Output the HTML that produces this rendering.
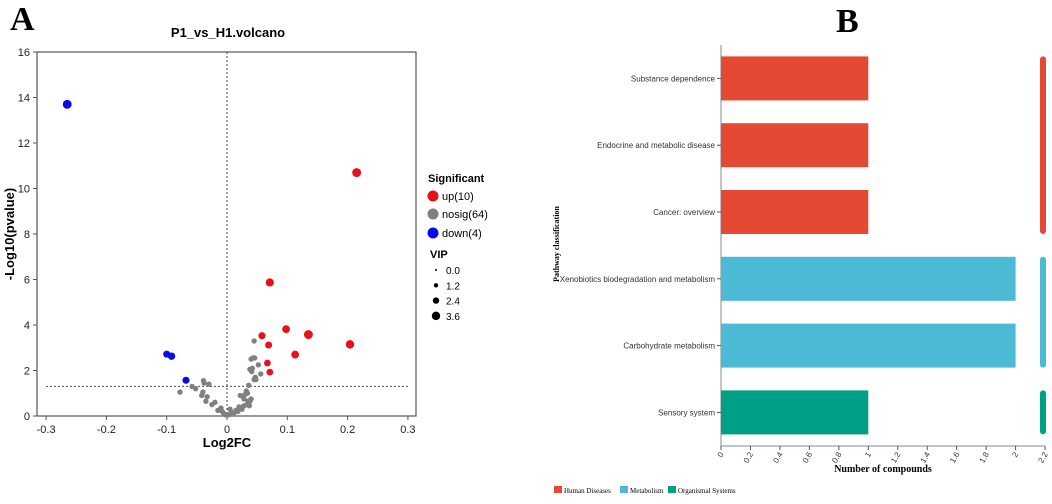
<!DOCTYPE html>
<html><head><meta charset="utf-8"><style>
body{margin:0;background:#fff;width:1052px;height:499px;overflow:hidden}
</style></head><body>
<svg id="s" width="1052" height="499" xmlns="http://www.w3.org/2000/svg" font-family="Liberation Sans, sans-serif">
<text x="10" y="30" font-family="Liberation Serif, serif" font-weight="bold" font-size="34">A</text>
<text x="836" y="32" font-family="Liberation Serif, serif" font-weight="bold" font-size="34">B</text>
<text x="228" y="37" text-anchor="middle" font-weight="bold" font-size="13">P1_vs_H1.volcano</text>
<g id="va"></g>
<g id="ba"></g>
</svg>
<script>
const NS="http://www.w3.org/2000/svg";
function mk(p,t,a,txt){const e=document.createElementNS(NS,t);for(const k in a)e.setAttribute(k,a[k]);if(txt!==undefined)e.textContent=txt;p.appendChild(e);return e;}
// ---- volcano data
const upX=[0.215,0.071,0.098,0.135,0.058,0.069,0.204,0.113,0.067,0.071];
const upY=[10.7,5.87,3.82,3.58,3.53,3.12,3.15,2.7,2.33,1.93];
const upVip=[3.6,3.2,3.0,3.6,2.6,2.6,3.4,3.0,2.4,2.4];
const downX=[-0.265,-0.1,-0.092,-0.068];
const downY=[13.7,2.72,2.63,1.57];
const downVip=[3.6,2.6,2.8,2.6];
const nsX=[0.045,0.043,0.046,0.04,0.042,0.038,0.041,0.052,0.056,0.047,0.045,0.036,0.032,0.03,0.027,0.035,0.033,0.028,0.02,0.025,0.018,0.022,0.015,0.012,0.04,0.038,-0.058,-0.052,-0.039,-0.038,-0.03,-0.04,-0.033,-0.025,-0.078,-0.042,-0.035,-0.02,-0.015,-0.008,-0.005,-0.002,0.003,0.008,-0.01,0.005,0.028,0.034,0.048,0.037];
const nsY=[3.3,2.55,2.55,2.5,2.1,2.05,1.95,2.25,1.85,1.7,1.6,1.35,1.1,0.95,0.85,0.65,0.5,0.45,0.4,0.3,0.2,0.9,0.25,0.15,0.75,0.65,1.3,1.2,1.55,1.45,1.4,1.05,0.85,0.5,1.05,0.9,0.65,0.6,0.25,0.2,0.1,0.05,0.05,0.15,0.35,0.3,0.75,1.0,1.6,0.45];
const xTicks=[-0.3,-0.2,-0.1,0,0.1,0.2,0.3];
const yTicks=[0,2,4,6,8,10,12,14,16];
const vipLeg=[0,1.2,2.4,3.6];
const L=37,R=416,T=52,B=416;
const sx=v=>227+v*603, sy=v=>B-v*22.75, rv=v=>1.2+v*0.9;
const va=document.getElementById('va');
let e=mk(va,'rect',{x:L,y:T,width:R-L,height:B-T,fill:'none',stroke:'#555','stroke-width':1.2});


xTicks.forEach(t=>{mk(va,'line',{x1:sx(t),x2:sx(t),y1:B,y2:B+4,stroke:'#555'});
 e=mk(va,'text',{x:sx(t),y:B+17,'text-anchor':'middle','font-size':11,fill:'#222'},t===0?'0':t.toFixed(1));
 
 });
yTicks.forEach(t=>{mk(va,'line',{x1:L-4,x2:L,y1:sy(t),y2:sy(t),stroke:'#555'});
 e=mk(va,'text',{x:L-7,y:sy(t)+4,'text-anchor':'end','font-size':11,fill:'#222'},t);
 
 });
mk(va,'line',{x1:sx(0),x2:sx(0),y1:T,y2:B,stroke:'#444','stroke-dasharray':'2,2'});
mk(va,'line',{x1:sx(-0.3),x2:sx(0.3),y1:sy(1.3),y2:sy(1.3),stroke:'#444','stroke-dasharray':'2,2'});
e=mk(va,'text',{x:227,y:447,'text-anchor':'middle','font-size':13,'font-weight':'bold'},'Log2FC');


e=mk(va,'text',{x:0,y:0,'text-anchor':'middle','font-size':13,'font-weight':'bold',transform:'translate(14,234) rotate(-90)'},'-Log10(pvalue)');


nsX.forEach((x,i)=>{e=mk(va,'circle',{cx:sx(x),cy:sy(nsY[i]),r:2.7,fill:'#808080'});
 
 });
upX.forEach((x,i)=>{e=mk(va,'circle',{cx:sx(x),cy:sy(upY[i]),r:rv(upVip[i]),fill:'#e8101a'});
 
 });
downX.forEach((x,i)=>{e=mk(va,'circle',{cx:sx(x),cy:sy(downY[i]),r:rv(downVip[i]),fill:'#0a0ae8'});
 
 });
// legend
mk(va,'text',{x:428,y:182,'font-size':11,'font-weight':'bold'},'Significant');
[['up(10)','#e8101a',196],['nosig(64)','#808080',214],['down(4)','#0a0ae8',233]].forEach(d=>{
 e=mk(va,'circle',{cx:433,cy:d[2],r:5.5,fill:d[1]});
 
 
 mk(va,'text',{x:442,y:d[2]+4,'font-size':11},d[0]);});
mk(va,'text',{x:430,y:258,'font-size':11,'font-weight':'bold'},'VIP');
vipLeg.forEach((v,i)=>{const y=270+i*15.3;
 e=mk(va,'circle',{cx:436,cy:y,r:v===0?1:rv(v)*0.95,fill:'#000'});
 
 
 mk(va,'text',{x:446,y:y+4,'font-size':10},v.toFixed(1));});
// ---- bar chart
const cats=['Substance dependence','Endocrine and metabolic disease','Cancer: overview','Xenobiotics biodegradation and metabolism','Carbohydrate metabolism','Sensory system'];
const vals=[1,1,1,2,2,1];
const groups=['Human Diseases','Human Diseases','Human Diseases','Metabolism','Metabolism','Organismal Systems'];
const bTicks=[0,0.2,0.4,0.6,0.8,1,1.2,1.4,1.6,1.8,2,2.2];
const gNames=['Human Diseases','Metabolism','Organismal Systems'];
const gCols={'Human Diseases':'#e44a33','Metabolism':'#4cbad5','Organismal Systems':'#00a087'};
const ba=document.getElementById('ba');
const X0=721, bs=147.3, Y0=45, band=66.8, bh=44;
const bx=v=>X0+v*bs, byc=i=>Y0+band*(i+0.5);
mk(ba,'line',{x1:X0,x2:X0,y1:Y0,y2:446,stroke:'#888','stroke-width':1});
mk(ba,'line',{x1:X0,x2:bx(2.2),y1:446,y2:446,stroke:'#888','stroke-width':1});
cats.forEach((c,i)=>{const y=byc(i);
 e=mk(ba,'rect',{x:X0,y:y-bh/2,width:bx(vals[i])-X0,height:bh,fill:gCols[groups[i]]});
 
 
 mk(ba,'line',{x1:X0-4,x2:X0,y1:y,y2:y,stroke:'#555'});
 e=mk(ba,'text',{x:X0-6,y:y+3,'text-anchor':'end','font-size':8,fill:'#333'},c);
 
 });
gNames.forEach(g=>{const idx=groups.map((x,i)=>x===g?i:-1).filter(i=>i>=0);
 const y1=byc(idx[0])-bh/2,y2=byc(idx[idx.length-1])+bh/2;
 e=mk(ba,'rect',{x:1040,y:y1,width:6,height:y2-y1,rx:3,fill:gCols[g]});
 
 });
bTicks.forEach(t=>{const x=bx(t);mk(ba,'line',{x1:x,x2:x,y1:446,y2:450,stroke:'#555'});
 e=mk(ba,'text',{x:0,y:0,'font-size':8,fill:'#333','text-anchor':'end',transform:`translate(${x+3},${454}) rotate(-60)`},String(t));
 
 });
e=mk(ba,'text',{x:883,y:472,'text-anchor':'middle','font-size':10,'font-weight':'bold','font-family':'Liberation Serif, serif'},'Number of compounds');


e=mk(ba,'text',{x:0,y:0,'text-anchor':'middle','font-size':8,'font-weight':'bold','font-family':'Liberation Serif, serif',transform:'translate(559,244) rotate(-90)'},'Pathway classification');


let lx=554;
gNames.forEach(g=>{e=mk(ba,'rect',{x:lx,y:486,width:8,height:7,fill:gCols[g]});
 
 
 mk(ba,'text',{x:lx+10,y:493,'font-size':7,'font-family':'Liberation Serif, serif'},g);
 lx+= g==='Human Diseases'?66:(g==='Metabolism'?48:80);});
</script>
</body></html>
